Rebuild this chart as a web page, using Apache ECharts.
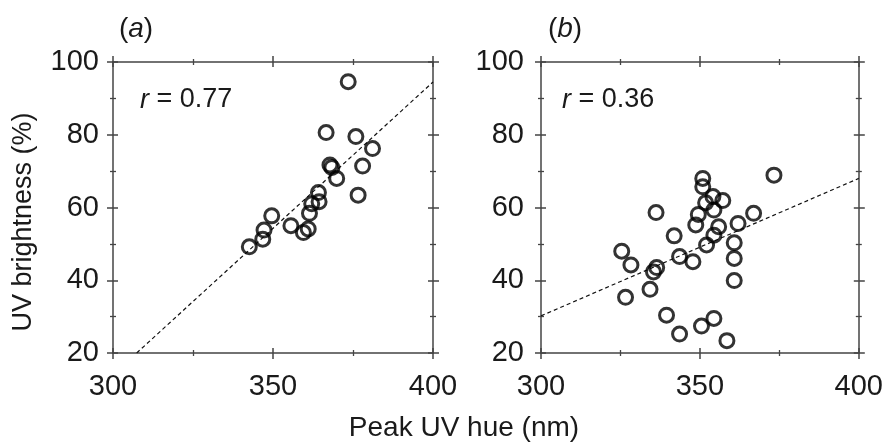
<!DOCTYPE html>
<html>
<head>
<meta charset="utf-8">
<script src="https://cdn.jsdelivr.net/npm/echarts@6/dist/echarts.min.js"></script>
<style>
html,body{margin:0;padding:0;background:#fff;}
#chart{width:886px;height:443px;}
</style>
</head>
<body>
<div id="chart"></div>
<script>
// ---- data ----
var hueA = [373.5,366.6,375.9,381.1,367.8,368.4,378.0,369.9,376.6,364.2,364.4,362.1,361.4,349.6,355.6,359.5,361.0,347.2,346.8,342.6];
var brightA = [94.6,80.6,79.5,76.2,71.7,71.0,71.4,68.0,63.4,64.1,61.6,61.0,58.4,57.7,55.0,53.1,54.1,53.8,51.3,49.2];
var hueB = [373.3,350.9,350.9,354.1,357.2,351.8,354.4,336.2,349.5,366.9,362.0,348.7,355.9,354.4,341.9,352.1,360.8,325.4,360.8,343.6,347.8,328.3,336.4,335.4,360.8,334.3,326.6,339.5,354.4,350.5,343.6,358.5];
var brightB = [68.9,68.0,65.7,63.0,61.9,61.3,59.3,58.6,58.1,58.4,55.6,55.2,54.7,52.4,52.2,49.7,50.3,48.0,46.0,46.5,45.1,44.2,43.5,42.3,39.9,37.5,35.3,30.4,29.5,27.4,25.2,23.4];
var fitLineA = [[307.4,20],[400,94.5]];
var fitLineB = [[300,30.2],[400,68.0]];
var panelLabels = ['a','b'];
var rLabels = ['0.77','0.36'];
var xTitle = 'Peak UV hue (nm)';
var yTitle = 'UV brightness (%)';
var xRange = {min:300,max:400,interval:50};
var yRange = {min:20,max:100,interval:20};

// ---- build ----
var FONT = 'Liberation Sans, Arial, Helvetica, sans-serif';
var AX = '#444';
var TXT = '#1a1a1a';

function pair(a,b){ return a.map(function(v,i){return [v,b[i]];}); }

function axesFor(dim, gridIndex, range, labelMargin){
  var pos = dim==='x' ? ['bottom','top'] : ['left','right'];
  var out = [];
  pos.forEach(function(p, pi){
    [false,true].forEach(function(inside){
      out.push({
        type:'value', gridIndex:gridIndex, position:p,
        min:range.min, max:range.max, interval:range.interval,
        axisLine:{show:!inside, lineStyle:{color:AX,width:1.5}},
        axisTick:{show:true, inside:inside, length: inside?5:6, lineStyle:{color:AX,width:1.5}},
        minorTick:{show:true, splitNumber:2, length:3, lineStyle:{color:AX,width:1.3}},
        splitLine:{show:false},
        axisLabel:{show:(pi===0 && !inside), margin:labelMargin, color:TXT, fontSize:29, fontFamily:FONT}
      });
    });
  });
  return out;
}

var grids = [
  {left:113, top:62, width:320, height:291},
  {left:541, top:62, width:320, height:291}
];

var xAxes = axesFor('x',0,xRange,19).concat(axesFor('x',1,xRange,19));
var yAxes = axesFor('y',0,yRange,14).concat(axesFor('y',1,yRange,17));

var scatterStyle = {color:'rgba(0,0,0,0)', borderColor:'#000', borderWidth:3};
var lineStyle = {color:'#111', width:1.2, type:[4,3]};

var series = [
  {type:'line', xAxisIndex:0, yAxisIndex:0, data:fitLineA, symbol:'none', lineStyle:lineStyle, z:1},
  {type:'scatter', xAxisIndex:0, yAxisIndex:0, data:pair(hueA,brightA), symbol:'circle', symbolSize:14, itemStyle:scatterStyle, z:2},
  {type:'line', xAxisIndex:4, yAxisIndex:4, data:fitLineB, symbol:'none', lineStyle:lineStyle, z:1},
  {type:'scatter', xAxisIndex:4, yAxisIndex:4, data:pair(hueB,brightB), symbol:'circle', symbolSize:14, itemStyle:scatterStyle, z:2}
];

function txt(x,y,rich,text,align,size){
  var s = {fill:TXT, fontSize:size, fontFamily:FONT, x:x, y:y, text:text, textAlign:align||'left', textVerticalAlign:'middle'};
  if(rich) s.rich = rich;
  return {type:'text', style:s};
}
function richIt(size){
  return {i:{fontStyle:'italic', fontSize:size, fontFamily:FONT, fill:TXT}, n:{fontSize:size, fontFamily:FONT, fill:TXT}};
}

var graphic = [
  txt(136,29,richIt(28),'{n|(}{i|'+panelLabels[0]+'}{n|)}','center',28),
  txt(565,29,richIt(28),'{n|(}{i|'+panelLabels[1]+'}{n|)}','center',28),
  txt(140,100,richIt(27),'{i|r}{n| = '+rLabels[0]+'}','left',27),
  txt(562,100,richIt(27),'{i|r}{n| = '+rLabels[1]+'}','left',27),
  txt(464,428,null,xTitle,'center',28),
  {type:'text', x:24, y:222, rotation:Math.PI/2, style:{fill:TXT, fontSize:27, fontFamily:FONT, x:0, y:0, text:yTitle, textAlign:'center', textVerticalAlign:'middle'}}
];

var chart = echarts.init(document.getElementById('chart'), null, {renderer:'canvas'});
chart.setOption({
  animation:false,
  backgroundColor:'#fff',
  grid:grids,
  xAxis:xAxes,
  yAxis:yAxes,
  series:series,
  graphic:graphic
});
</script>
</body>
</html>
